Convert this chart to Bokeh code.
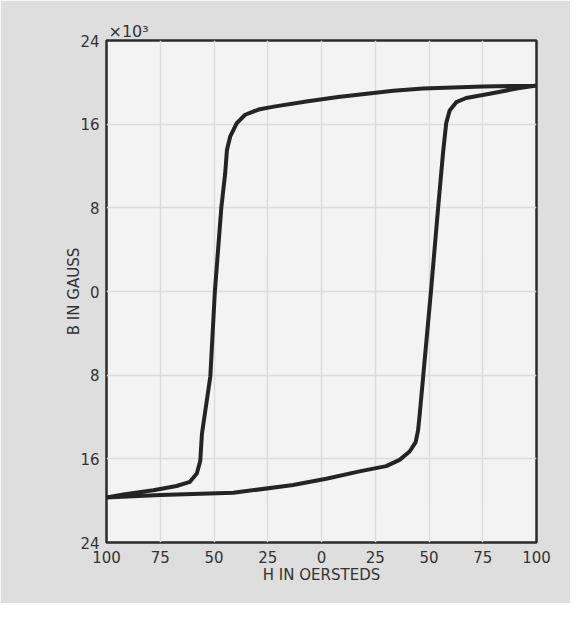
from bokeh.plotting import figure
from bokeh.models import Range1d, FixedTicker, Title
from bokeh.embed import file_html
from bokeh.resources import INLINE

# ---- data (H in oersteds, B in thousands of gauss) ----
H_TICKS = [-100, -75, -50, -25, 0, 25, 50, 75, 100]
B_TICKS = [-24, -16, -8, 0, 8, 16, 24]

# branch traced from +H tip down to -H tip (upper / left side of loop)
desc_H = [100, 75.1, 47.2, 33.4, 7.7, -6.3, -21.5, -29.3, -35.5, -39.4, -42.5, -44.0,
          -44.8, -46.6, -49.6, -51.7, -55.6, -56.4, -58.0, -61.2, -67.4, -78.2, -92.1, -100]
desc_B = [19.7, 19.6, 19.4, 19.2, 18.6, 18.2, 17.7, 17.4, 16.9, 16.1, 14.8, 13.5,
          11.3, 8.0, 0.0, -8.1, -13.6, -16.2, -17.4, -18.2, -18.6, -19.0, -19.4, -19.7]

# branch traced from -H tip up to +H tip (lower / right side of loop)
asc_H = [-100, -75, -41, -13.2, 2.2, 17.7, 30.1, 36.3, 41.0, 43.8, 44.9, 45.7,
         47.3, 50.9, 54.2, 56.5, 58.0, 59.6, 62.7, 67.3, 78.2, 90.6, 100]
asc_B = [-19.7, -19.45, -19.25, -18.5, -17.9, -17.2, -16.7, -16.1, -15.3, -14.4, -13.3, -11.7,
         -8.1, 0.0, 7.9, 13.2, 16.1, 17.3, 18.1, 18.5, 18.9, 19.4, 19.7]

loop_H = desc_H + asc_H[1:]
loop_B = desc_B + asc_B[1:]

FONT = "DejaVu Sans"
TXT = "#333333"

p = figure(width=570, height=603, output_backend="svg", toolbar_location=None,
           x_range=Range1d(-100, 100), y_range=Range1d(-24, 24),
           min_border_left=106, min_border_right=34, min_border_top=40, min_border_bottom=61)

p.background_fill_color = "#f3f3f3"
p.border_fill_color = "#dedede"
p.outline_line_color = "#2b2b2b"
p.outline_line_width = 2.5

p.xaxis.ticker = FixedTicker(ticks=H_TICKS)
p.yaxis.ticker = FixedTicker(ticks=B_TICKS)
p.xaxis.major_label_overrides = {t: str(abs(t)) for t in H_TICKS}
p.yaxis.major_label_overrides = {t: str(abs(t)) for t in B_TICKS}

for ax in (p.xaxis, p.yaxis):
    ax.axis_line_color = None
    ax.major_tick_line_color = None
    ax.minor_tick_line_color = None
    ax.major_label_text_font = FONT
    ax.major_label_text_font_size = "15px"
    ax.major_label_text_color = TXT
    ax.axis_label_text_font = FONT
    ax.axis_label_text_font_size = "15px"
    ax.axis_label_text_font_style = "normal"
    ax.axis_label_text_color = TXT

p.xaxis.axis_label = "H IN OERSTEDS"
p.yaxis.axis_label = "B IN GAUSS"
p.xaxis.major_label_standoff = 2
p.xaxis.axis_label_standoff = 0
p.yaxis.major_label_standoff = 1
p.yaxis.axis_label_standoff = -6

p.xgrid.grid_line_color = "#dcdcdc"
p.ygrid.grid_line_color = "#dcdcdc"
p.xgrid.grid_line_width = 1.5
p.ygrid.grid_line_width = 1.5

p.line(loop_H, loop_B, line_color="#242424", line_width=4, line_join="round", line_cap="round")

p.add_layout(Title(text="×10³", align="left", offset=2, standoff=0,
                   text_font=FONT, text_font_size="16px", text_font_style="normal",
                   text_color=TXT), "above")

open("out.html", "w").write(file_html(p, INLINE))
